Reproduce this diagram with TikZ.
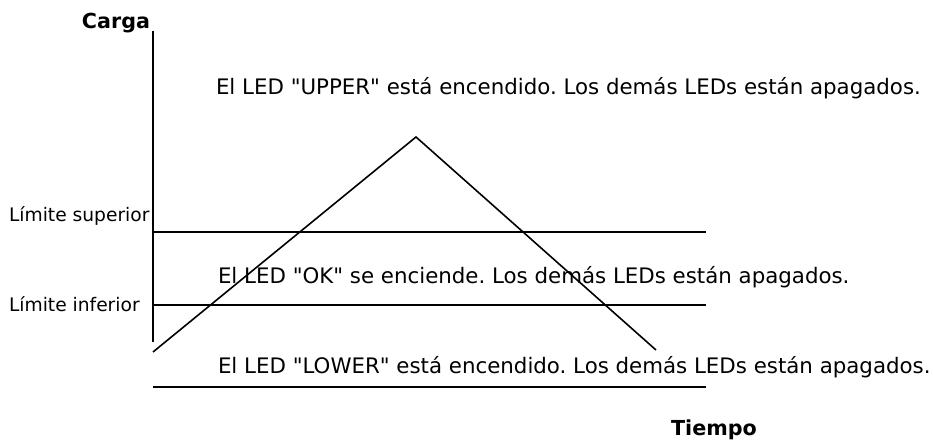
\documentclass[tikz,border=0pt]{standalone}
\usepackage{fontspec}
\setmainfont{DejaVu Sans}
\tikzset{every picture/.style={line width=1.5pt}}
\tikzset{
  estado/.style={anchor=base west, inner sep=0pt, font=\fontsize{16}{19}\selectfont},
  limite/.style={anchor=base west, inner sep=0pt, font=\fontsize{14}{16}\selectfont},
  eje/.style={inner sep=0pt, font=\bfseries\fontsize{15.5}{18}\selectfont}
}
\frenchspacing
\begin{document}
\begin{tikzpicture}[x=0.75pt,y=0.75pt,yscale=-1,xscale=1]
\path[use as bounding box] (0,0) rectangle (933,441);

%Axis labels
\node[eje, anchor=base east] (carga) at (151,29) {Carga};
\node[eje, anchor=base] (tiempo) at (714,436) {Tiempo};

%Straight Lines: axis and limits
\coordinate (ejetop) at (153,31);
\coordinate (ejebot) at (153,342);
\draw (ejetop) -- (ejebot);
\coordinate (supA) at (153,232);
\coordinate (supB) at (706,232);
\draw (supA) -- (supB);
\coordinate (infA) at (153,305);
\coordinate (infB) at (706,305);
\draw (infA) -- (infB);
\coordinate (basA) at (153,387);
\coordinate (basB) at (706,387);
\draw (basA) -- (basB);

%Straight Lines: load curve
\coordinate (ini) at (153,352);
\coordinate (pico) at (416,137);
\coordinate (fin) at (656,350);
\draw[line width=1.2pt] (ini) -- (pico) -- (fin);

%Text
\node[limite] (lsup) at (8,222) {Límite superior};
\node[limite] (linf) at (8,312) {Límite inferior};
\node[estado] (upper) at (215,95) {El LED \textquotedbl UPPER\textquotedbl{} está encendido. Los demás LEDs están apagados.};
\node[estado] (ok) at (217,284) {El LED \textquotedbl OK\textquotedbl{} se enciende. Los demás LEDs están apagados.};
\node[estado] (lower) at (217,374) {El LED \textquotedbl LOWER\textquotedbl{} está encendido. Los demás LEDs están apagados.};

\end{tikzpicture}
\end{document}
